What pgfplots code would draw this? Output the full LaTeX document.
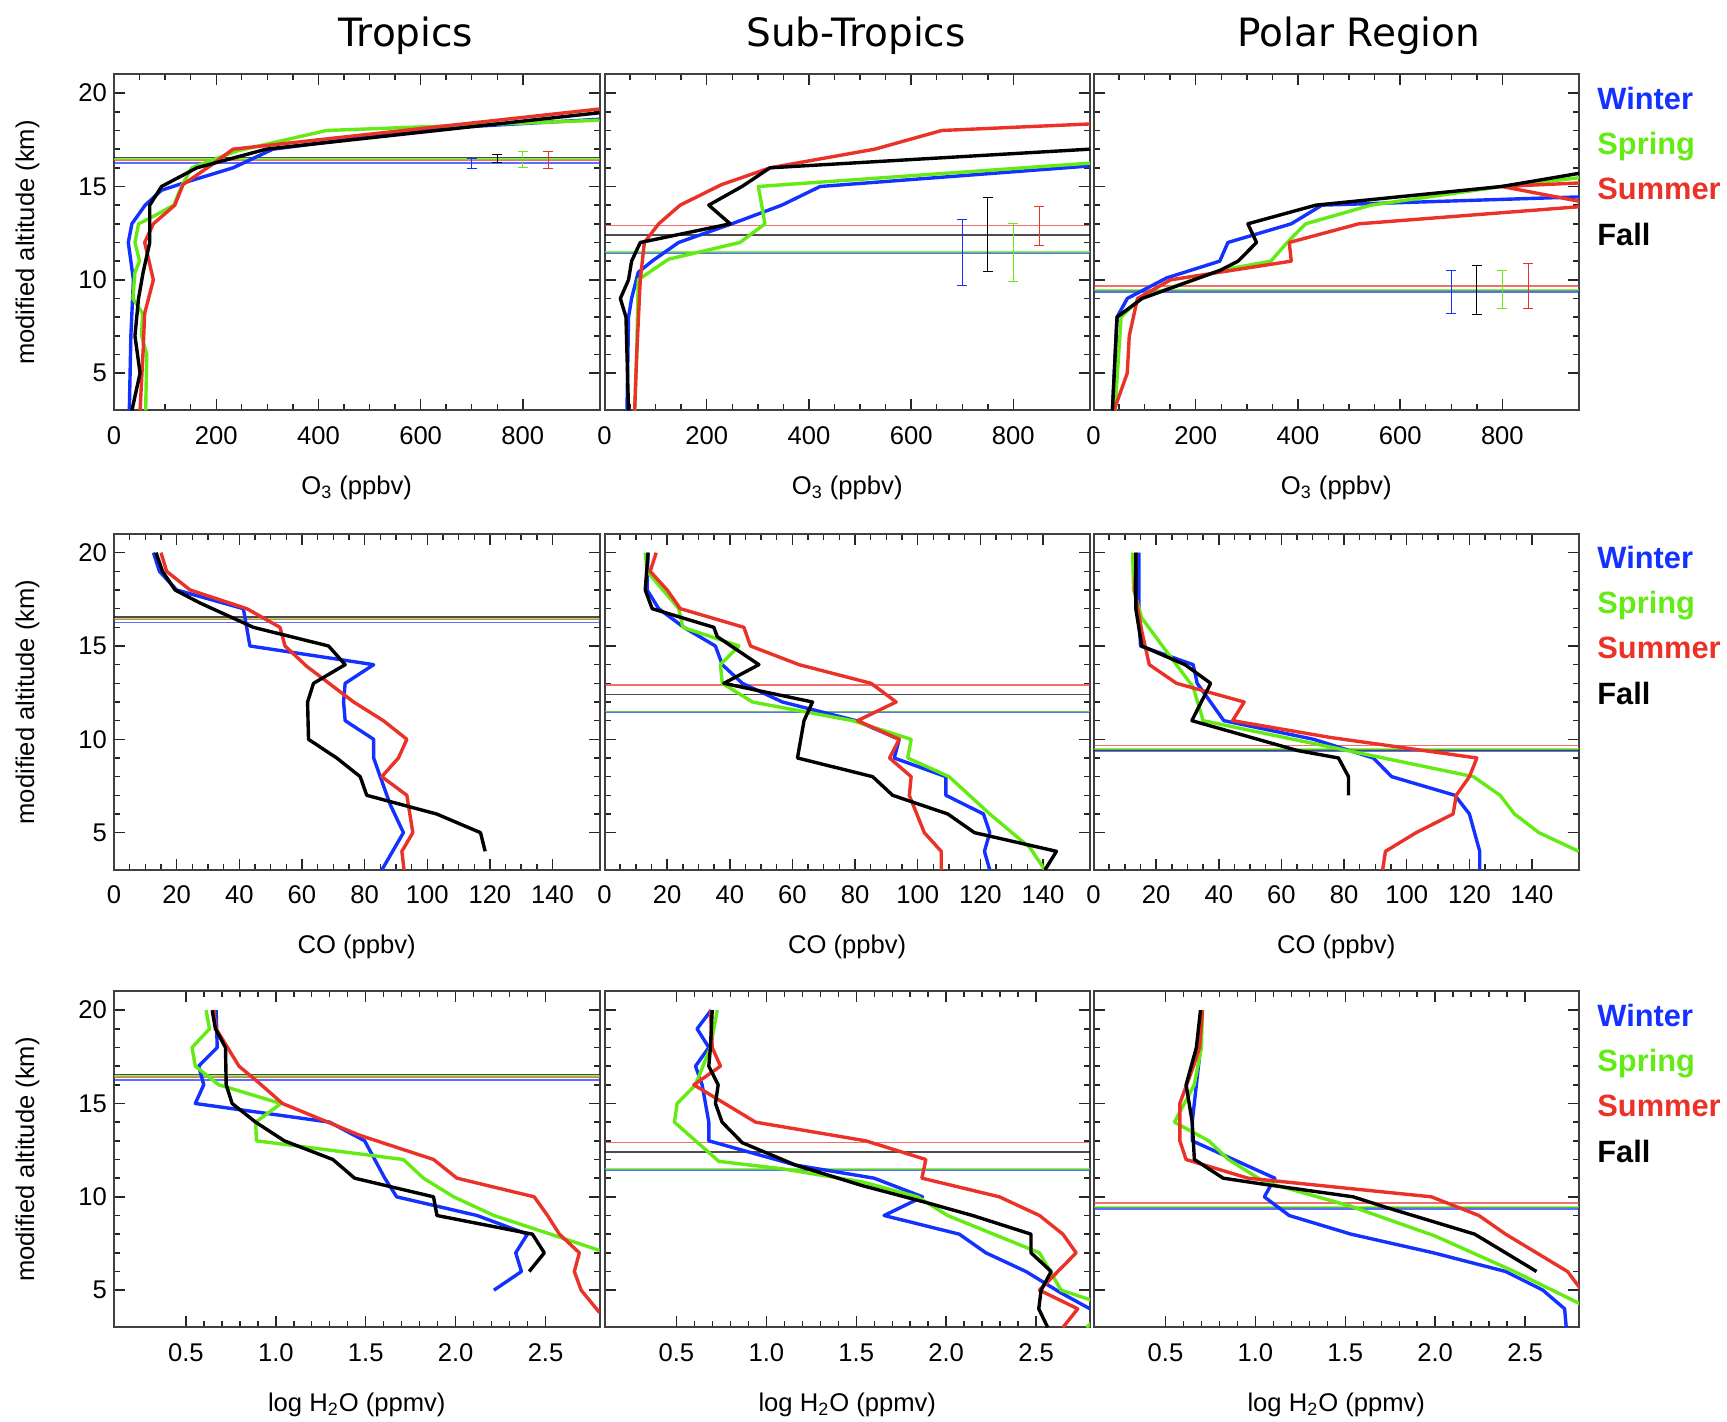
\documentclass[border=0pt]{standalone}
\usepackage{fontspec}
\setmainfont{Liberation Sans}
\newfontfamily\titlefont{DejaVu Sans}
\usepackage{pgfplots}
\pgfplotsset{compat=1.18}
\definecolor{cw}{RGB}{20,50,255}
\definecolor{cs}{RGB}{100,235,20}
\definecolor{cu}{RGB}{235,50,40}
\definecolor{cf}{RGB}{0,0,0}
\newcommand\ticksize{\fontsize{12.8}{14}\selectfont}
\pgfplotsset{
  panel/.style={scale only axis, width=242.75pt, height=168pt, anchor=south west,
    ymin=3, ymax=21, ytick={5,10,15,20}, minor y tick num=4,
    tick align=inside, xtick pos=both, ytick pos=both,
    major tick length=5.5pt, minor tick length=3pt,
    tick style={gray!30!black, line width=0.7pt},
    axis line style={gray!50!black, line width=1pt},
    tick label style={font=\ticksize}, label style={font=\ticksize},
    /pgf/number format/assume math mode=true,
    xticklabel style={yshift=-4.5pt},
    xlabel style={at={(axis description cs:0.5,0)}, anchor=center, yshift=-38.5pt},
    every axis plot/.append style={line width=1.7pt, line join=round},
  },
  noyl/.style={yticklabels={}},
  yl/.style={ylabel={modified altitude (km)}, ylabel style={at={(axis description cs:-0.178,0.5)}, anchor=center}},
  o3/.style={xmin=0, xmax=950, xtick={0,200,...,800}, minor x tick num=3, xlabel={O\textsubscript{3} (ppbv)}},
  co/.style={xmin=0, xmax=155, xtick={0,20,...,140}, minor x tick num=3, xlabel={CO (ppbv)}},
  h2o/.style={xmin=0.1, xmax=2.8, xtick={0.5,1.0,1.5,2.0,2.5}, minor x tick num=4,
    xticklabel style={/pgf/number format/fixed, /pgf/number format/fixed zerofill, /pgf/number format/precision=1},
    xlabel={log H\textsubscript{2}O (ppmv)}},
  tp/.style={line width=0.8pt, opacity=0.7},
  eb/.style={line width=1pt, mark size=2.5pt, error bars/.cd, y dir=both, y explicit},
}
\begin{document}
\begin{tikzpicture}
\path[use as bounding box] (0,0) rectangle (863.5pt,711pt);
% titles
\node[anchor=base, font=\titlefont\fontsize{19.5}{22}\selectfont] at (203pt,687.5pt) {Tropics};
\node[anchor=base, font=\titlefont\fontsize{19.5}{22}\selectfont] at (428pt,687.5pt) {Sub-Tropics};
\node[anchor=base, font=\titlefont\fontsize{19.5}{22}\selectfont] at (679.5pt,687.5pt) {Polar Region};
% legends
\foreach \yy in {656, 426.5, 197.75} {
  \node[anchor=base west, font=\bfseries\fontsize{15.4}{17}\selectfont, text=cw, inner sep=0pt] at (798.5pt,\yy pt) {Winter};
  \node[anchor=base west, font=\bfseries\fontsize{15.4}{17}\selectfont, text=cs, inner sep=0pt] at (798.5pt,\yy pt-22.5pt) {Spring};
  \node[anchor=base west, font=\bfseries\fontsize{15.4}{17}\selectfont, text=cu, inner sep=0pt] at (798.5pt,\yy pt-45pt) {Summer};
  \node[anchor=base west, font=\bfseries\fontsize{15.4}{17}\selectfont, text=cf, inner sep=0pt] at (798.5pt,\yy pt-68pt) {Fall};
}
% ===== Row 1: O3 =====
\begin{axis}[panel, o3, yl, at={(57pt,505.75pt)}]
\addplot[cw,tp] coordinates {(0,16.25) (950,16.25)};
\addplot[cu,tp] coordinates {(0,16.42) (950,16.42)};
\addplot[cs,tp] coordinates {(0,16.48) (950,16.48)};
\addplot[cf,tp] coordinates {(0,16.55) (950,16.55)};
\addplot[cw] coordinates {(30,3) (33,7) (38,10) (28,12) (35,13) (61,14) (93,14.8) (149,15.3) (233,16) (311,17) (624,18.1) (950,18.6)};
\addplot[cs] coordinates {(62,3) (64,6) (54,7) (56,8.2) (37,9) (41,10.4) (50,11) (41,12) (48,13) (77,13.4) (117,14) (132,15) (152,16) (240,16.9) (416,18) (950,18.55)};
\addplot[cu] coordinates {(51,3) (57,6.2) (60,8.2) (77,10) (60,12) (77,13) (119,14) (135,15.1) (188,16.1) (233,17) (950,19.15)};
\addplot[cf] coordinates {(35,3) (51,5) (41,7) (48,9) (57,10.4) (70,12) (70,14) (93,15) (162,16) (298,17) (950,18.95)};
\addplot[cw,eb] coordinates {(700,16.25) +- (0,0.27)};
\addplot[cf,eb] coordinates {(750,16.5) +- (0,0.22)};
\addplot[cs,eb] coordinates {(800,16.45) +- (0,0.42)};
\addplot[cu,eb] coordinates {(850,16.43) +- (0,0.45)};
\end{axis}
\begin{axis}[panel, o3, noyl, at={(302.25pt,505.75pt)}]
\addplot[cw,tp] coordinates {(0,11.45) (950,11.45)};
\addplot[cs,tp] coordinates {(0,11.49) (950,11.49)};
\addplot[cf,tp] coordinates {(0,12.41) (950,12.41)};
\addplot[cu,tp] coordinates {(0,12.9) (950,12.9)};
\addplot[cw] coordinates {(44,3) (47,8) (53,9) (66,10.4) (93,11) (145,12) (249,13) (347,14) (422,15) (950,16.1)};
\addplot[cs] coordinates {(59,3) (63,6) (66,10) (125,11.1) (265,12) (314,13) (301,15) (950,16.25)};
\addplot[cu] coordinates {(59,3) (63,6) (70,10) (78,12) (106,13) (148,14) (229,15.1) (324,16) (529,17) (660,18) (950,18.35)};
\addplot[cf] coordinates {(47,3) (42,8) (31,9) (47,10) (53,11) (70,12) (246,13) (204,14) (269,15) (324,16) (950,17)};
\addplot[cw,eb] coordinates {(700,11.48) +- (0,1.77)};
\addplot[cf,eb] coordinates {(750,12.43) +- (0,2.0)};
\addplot[cs,eb] coordinates {(800,11.46) +- (0,1.55)};
\addplot[cu,eb] coordinates {(850,12.9) +- (0,1.03)};
\end{axis}
\begin{axis}[panel, o3, noyl, at={(546.75pt,505.75pt)}]
\addplot[cw,tp] coordinates {(0,9.35) (950,9.35)};
\addplot[cf,tp] coordinates {(0,9.43) (950,9.43)};
\addplot[cs,tp] coordinates {(0,9.47) (950,9.47)};
\addplot[cu,tp] coordinates {(0,9.66) (950,9.66)};
\addplot[cw] coordinates {(37,3) (46,8) (66,9) (143,10.1) (247,11) (263,12) (387,13) (447,14) (960,14.45)};
\addplot[cs] coordinates {(42,3) (54,8) (91,9) (247,10.5) (347,11) (379,12) (415,13) (543,14) (799,15) (960,15.5)};
\addplot[cu] coordinates {(40,3) (66,5) (70,7) (86,9) (151,10) (387,11) (383,12) (519,13) (990,14) (799,15) (1600,16)};
\addplot[cf] coordinates {(37,3) (46,8) (95,9) (247,10.5) (283,11) (319,12) (302,13) (435,14) (799,15) (960,15.75)};
\addplot[cw,eb] coordinates {(700,9.35) +- (0,1.15)};
\addplot[cf,eb] coordinates {(750,9.45) +- (0,1.32)};
\addplot[cs,eb] coordinates {(800,9.49) +- (0,1.01)};
\addplot[cu,eb] coordinates {(850,9.67) +- (0,1.19)};
\end{axis}
% ===== Row 2: CO =====
\begin{axis}[panel, co, yl, at={(57pt,276pt)}]
\addplot[cw,tp] coordinates {(0,16.25) (155,16.25)};
\addplot[cu,tp] coordinates {(0,16.42) (155,16.42)};
\addplot[cs,tp] coordinates {(0,16.48) (155,16.48)};
\addplot[cf,tp] coordinates {(0,16.55) (155,16.55)};
\addplot[cw] coordinates {(12.6,20) (14.5,19) (20,18) (41.3,17) (43.4,15) (82.9,14) (73.8,13) (73.3,12) (73.8,11) (82.9,10) (82.9,9) (85,8) (88.2,6.5) (92.4,5) (85.5,3)};
\addplot[cu] coordinates {(15,20) (16.8,19) (24.3,18) (42.4,17) (53,16) (54.6,15) (61.6,13.9) (76.5,12) (86,11) (93.5,10) (90.8,9) (85.5,8) (93.5,7) (95.4,5) (91.9,4) (92.6,3)};
\addplot[cf] coordinates {(13.4,20) (15.5,19) (19.5,18) (27.5,17.3) (44.5,16) (68.5,15) (73.8,14) (63.7,13) (61.8,12) (62.1,10) (71.1,9) (78.6,8) (80.7,7) (103,6) (117,5) (118.5,4)};
\end{axis}
\begin{axis}[panel, co, noyl, at={(302.25pt,276pt)}]
\addplot[cw,tp] coordinates {(0,11.45) (155,11.45)};
\addplot[cs,tp] coordinates {(0,11.49) (155,11.49)};
\addplot[cf,tp] coordinates {(0,12.41) (155,12.41)};
\addplot[cu,tp] coordinates {(0,12.9) (155,12.9)};
\addplot[cw] coordinates {(13.9,20) (13.6,18) (17.3,17) (25.3,16) (35.4,15) (37.6,14) (44,13) (56.8,12) (80.3,11) (94.1,10) (92.5,9) (109,8) (109,7) (121,6) (123,5) (121.3,4) (123,3)};
\addplot[cs] coordinates {(13,20) (13.6,19) (23.7,17) (25,16) (42.9,15) (37,14) (37.6,13) (47.2,12) (79.2,11) (97.9,10) (96.8,9) (110,8) (123,6) (135.8,4.2) (140.6,3)};
\addplot[cu] coordinates {(16.5,20) (14.6,19) (20,18) (24.2,17) (44.5,16) (46.6,15) (62.1,14) (85.1,13) (93.1,12) (80.8,11) (94.1,10) (91,9) (97.9,8) (97.3,7) (102.1,5) (107.5,4) (107.5,3)};
\addplot[cf] coordinates {(13.9,20) (13,18) (15.2,17) (34.9,16) (36,15.5) (49.3,14) (38.1,13) (66.4,12) (63.7,11) (61.6,9) (85.6,8) (92,7) (109.6,6) (118.1,5) (144.3,4) (140.6,3)};
\end{axis}
\begin{axis}[panel, co, noyl, at={(546.75pt,276pt)}]
\addplot[cw,tp] coordinates {(0,9.35) (155,9.35)};
\addplot[cf,tp] coordinates {(0,9.43) (155,9.43)};
\addplot[cs,tp] coordinates {(0,9.47) (155,9.47)};
\addplot[cu,tp] coordinates {(0,9.66) (155,9.66)};
\addplot[cw] coordinates {(14.5,20) (14.5,17) (15,15) (31.8,14) (33.1,13) (41.6,11) (70.3,10) (89.3,9) (95.2,8) (115.4,7) (120,6) (123.3,4) (123.3,3)};
\addplot[cs] coordinates {(12.5,20) (12.8,18) (15.4,16.5) (22,15) (31.8,12.8) (35,11) (121.3,8) (129.8,7) (134.4,6) (142.2,5) (154.9,4)};
\addplot[cu] coordinates {(13.7,20) (13.1,18) (15.4,15.8) (17.8,14) (26.5,13) (48.1,12) (44.4,11) (75.6,10.1) (122.4,9) (120,8) (115.8,7) (114.8,6) (103,5) (93.2,4) (92.3,3)};
\addplot[cf] coordinates {(13.5,20) (13.5,17) (15.4,15) (29.2,14) (37.4,13) (31.4,11) (65.1,9.4) (78.2,9) (81.4,8) (81.4,7)};
\end{axis}
% ===== Row 3: H2O =====
\begin{axis}[panel, h2o, yl, at={(57pt,47.25pt)}]
\addplot[cw,tp] coordinates {(0.1,16.25) (2.8,16.25)};
\addplot[cu,tp] coordinates {(0.1,16.42) (2.8,16.42)};
\addplot[cs,tp] coordinates {(0.1,16.48) (2.8,16.48)};
\addplot[cf,tp] coordinates {(0.1,16.55) (2.8,16.55)};
\addplot[cw] coordinates {(0.668,20) (0.674,18) (0.571,17) (0.599,16) (0.552,15) (1.299,14) (1.494,13) (1.606,11) (1.672,10) (2.119,9) (2.399,8) (2.334,7) (2.366,6) (2.213,5)};
\addplot[cs] coordinates {(0.612,20) (0.631,19) (0.534,18) (0.552,17) (0.683,16) (1.028,15) (0.888,14) (0.892,13) (1.709,12) (1.821,11) (1.989,10) (2.213,9) (2.81,7.1)};
\addplot[cu] coordinates {(0.655,20) (0.668,19) (0.795,17) (0.907,16.1) (1.037,15) (1.466,13.3) (1.877,12) (2.007,11) (2.437,10) (2.511,9) (2.577,8) (2.688,7) (2.66,6) (2.698,5) (2.8,3.8)};
\addplot[cf] coordinates {(0.646,20) (0.664,19) (0.72,18) (0.724,16) (0.757,15) (0.888,14) (1.047,13) (1.317,12) (1.438,11) (1.877,10) (1.896,9) (2.427,8) (2.493,7) (2.409,6)};
\end{axis}
\begin{axis}[panel, h2o, noyl, at={(302.25pt,47.25pt)}]
\addplot[cw,tp] coordinates {(0.1,11.45) (2.8,11.45)};
\addplot[cs,tp] coordinates {(0.1,11.49) (2.8,11.49)};
\addplot[cf,tp] coordinates {(0.1,12.41) (2.8,12.41)};
\addplot[cu,tp] coordinates {(0.1,12.9) (2.8,12.9)};
\addplot[cw] coordinates {(0.693,20) (0.615,19) (0.68,18) (0.606,17) (0.643,16) (0.68,14) (0.68,13) (1.163,11.7) (1.599,11) (1.869,10) (1.655,9) (2.073,8) (2.221,7) (2.444,6) (2.63,4.9) (2.8,4) (2.9,3.5)};
\addplot[cs] coordinates {(0.727,20) (0.689,18) (0.606,16) (0.504,15) (0.489,14) (0.736,11.9) (1.089,11.5) (1.534,10.8) (1.841,10) (2.008,9) (2.519,7) (2.639,5) (2.797,4.5) (2.9,4.0) (2.78,3)};
\addplot[cu] coordinates {(0.689,20) (0.699,18) (0.745,17) (0.597,16) (0.94,14) (1.553,13) (1.887,12) (1.865,11) (2.296,10) (2.519,9) (2.649,8) (2.723,7) (2.519,5) (2.732,4) (2.649,3)};
\addplot[cf] coordinates {(0.699,20) (0.689,18) (0.68,17) (0.732,16) (0.717,15) (0.754,14) (0.866,12.9) (1.163,11.7) (1.534,10.6) (1.887,9.7) (2.147,9) (2.472,8) (2.472,7) (2.584,6) (2.528,5) (2.515,4) (2.565,3)};
\end{axis}
\begin{axis}[panel, h2o, noyl, at={(546.75pt,47.25pt)}]
\addplot[cw,tp] coordinates {(0.1,9.35) (2.8,9.35)};
\addplot[cf,tp] coordinates {(0.1,9.43) (2.8,9.43)};
\addplot[cs,tp] coordinates {(0.1,9.47) (2.8,9.47)};
\addplot[cu,tp] coordinates {(0.1,9.66) (2.8,9.66)};
\addplot[cw] coordinates {(0.702,20) (0.695,18) (0.649,14) (0.649,13) (1.108,11) (1.05,10) (1.188,9) (1.532,8) (1.991,7) (2.392,6) (2.599,5) (2.72,4) (2.729,3)};
\addplot[cs] coordinates {(0.706,20) (0.7,18) (0.66,16) (0.55,14) (0.741,13) (0.85,12) (1.05,10.8) (1.53,9.5) (2.0,7.9) (2.44,6) (2.81,4.25)};
\addplot[cu] coordinates {(0.706,20) (0.69,18) (0.656,17) (0.58,15) (0.58,13) (0.615,12) (0.959,11) (1.979,10) (2.243,9) (2.392,8) (2.564,7) (2.736,6) (2.81,5.05) (2.85,4.8)};
\addplot[cf] coordinates {(0.695,20) (0.672,18) (0.615,16) (0.649,14) (0.661,12) (0.821,11) (1.028,10.7) (1.544,10) (1.739,9.4) (2.22,8) (2.392,7) (2.564,6)};
\end{axis}
\end{tikzpicture}
\end{document}
